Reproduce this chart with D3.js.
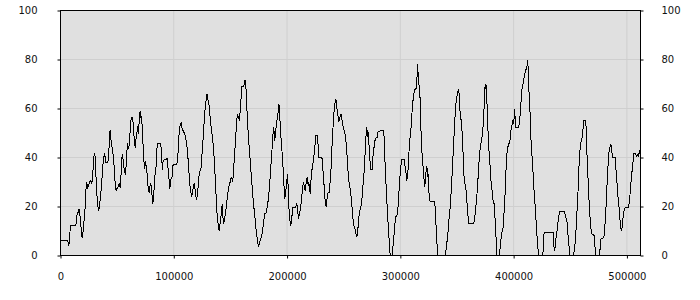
<!DOCTYPE html>
<html>
<head>
<meta charset="utf-8">
<script src="https://cdnjs.cloudflare.com/ajax/libs/d3/7.8.5/d3.min.js"></script>
<style>
  body { margin: 0; background: #ffffff; }
  text { font-family: "DejaVu Sans", Verdana, sans-serif; font-size: 10px; fill: #111111; }
</style>
</head>
<body>
<div id="chart"></div>
<script>
//----------------------------------------------------------------
// donnees (x en milliers, y en %)
//----------------------------------------------------------------
var xTicks = [0, 100000, 200000, 300000, 400000, 500000];
var yTicks = [0, 20, 40, 60, 80, 100];
var xMax = 512000;

var serieX = [
  0, 6.5, 7.1, 7.6, 8.2, 8.8, 13.5, 14.1, 14.7, 15.6, 16.5, 17.1, 17.7, 18.5, 19.1, 19.7, 20.3, 21.2, 21.8, 22.4,
  23.2, 23.8, 24.7, 25.6, 26.8, 27.7, 28.5, 29.4, 30.0, 30.6, 31.2, 32.1, 32.7, 33.8, 34.4, 35.3, 36.5, 37.4, 38.2, 38.8,
  39.4, 40.0, 41.8, 42.7, 43.2, 43.8, 44.4, 45.0, 45.9, 46.8, 47.7, 48.2, 49.1, 49.7, 50.6, 51.5, 52.1, 52.7, 53.5, 54.4,
  55.0, 55.6, 56.5, 57.4, 58.0, 58.5, 59.1, 59.7, 60.3, 60.9, 61.5, 62.4, 63.8, 64.4, 65.3, 65.9, 66.5, 67.4, 68.0, 68.6,
  69.1, 69.7, 70.3, 70.9, 71.5, 72.1, 72.7, 73.3, 73.8, 74.4, 75.0, 75.6, 76.2, 76.8, 77.7, 78.3, 78.8, 79.7, 80.3, 80.9,
  81.5, 82.1, 82.7, 83.3, 83.8, 84.4, 85.0, 85.6, 88.0, 88.8, 89.4, 90.0, 90.6, 91.8, 93.3, 94.1, 94.7, 95.3, 95.9, 96.5,
  97.1, 97.7, 98.3, 98.9, 99.4, 102.7, 103.6, 104.1, 104.7, 105.6, 106.5, 107.1, 107.7, 108.6, 109.4, 110.3, 111.2, 112.1, 113.0, 113.6,
  114.4, 115.3, 115.9, 116.5, 117.4, 118.0, 118.9, 119.7, 120.3, 120.9, 121.8, 122.4, 123.3, 124.2, 125.0, 125.6, 126.5, 127.1, 128.0, 128.9,
  129.4, 130.0, 130.9, 131.5, 132.4, 133.3, 134.1, 135.0, 135.6, 136.2, 136.8, 137.4, 138.0, 138.6, 139.4, 140.0, 140.6, 141.2, 142.1, 142.7,
  143.2, 143.8, 144.4, 145.3, 145.9, 146.8, 147.7, 148.3, 149.2, 149.7, 150.6, 151.5, 152.1, 152.7, 153.6, 154.4, 155.0, 155.6, 156.2, 156.8,
  157.4, 158.0, 158.6, 159.5, 160.1, 161.6, 162.2, 163.0, 163.6, 164.5, 165.4, 166.3, 167.5, 168.3, 169.2, 170.1, 171.0, 171.9, 172.7, 173.9,
  174.8, 175.7, 176.9, 177.7, 179.2, 180.1, 181.3, 182.2, 183.3, 184.5, 185.4, 186.3, 187.2, 188.0, 188.6, 189.2, 189.8, 190.4, 191.0, 191.9,
  192.8, 193.3, 193.9, 194.8, 195.7, 196.6, 197.5, 198.0, 198.9, 199.8, 200.4, 201.0, 201.6, 202.5, 203.3, 204.2, 205.1, 206.3, 207.5, 208.6,
  209.2, 210.1, 211.0, 211.9, 212.8, 213.6, 214.5, 215.1, 216.0, 216.9, 217.8, 218.6, 219.2, 219.8, 220.4, 221.0, 221.9, 222.8, 223.9, 224.8,
  225.4, 226.9, 227.5, 228.1, 229.8, 231.0, 231.9, 232.8, 233.6, 234.5, 235.4, 236.3, 237.2, 238.1, 238.9, 239.5, 240.4, 241.3, 242.2, 242.8,
  243.6, 244.2, 245.1, 245.7, 246.3, 246.9, 247.5, 248.1, 249.0, 249.8, 250.7, 251.6, 252.5, 253.4, 254.2, 255.1, 256.0, 256.9, 257.8, 258.7,
  259.5, 260.4, 261.3, 262.2, 263.1, 264.0, 264.8, 266.0, 266.9, 268.1, 269.0, 269.8, 270.4, 271.0, 271.6, 272.5, 273.4, 274.0, 275.1, 275.7,
  276.6, 277.5, 278.1, 278.7, 279.5, 280.4, 285.1, 285.7, 286.3, 287.2, 288.1, 289.0, 289.8, 290.4, 291.0, 292.8, 293.4, 294.0, 294.8, 295.7,
  296.6, 297.5, 298.4, 299.3, 300.4, 301.0, 303.4, 304.3, 305.1, 305.7, 306.6, 307.5, 308.4, 309.0, 309.6, 310.4, 311.3, 312.2, 313.1, 314.0,
  314.6, 315.1, 315.7, 316.3, 316.9, 317.5, 318.1, 319.0, 319.8, 320.4, 321.0, 321.6, 322.2, 322.8, 323.4, 324.0, 324.6, 325.1, 326.0, 326.9,
  330.4, 331.0, 331.9, 332.5, 333.1, 339.6, 340.4, 341.3, 342.2, 343.1, 344.0, 344.9, 345.7, 346.6, 347.5, 348.4, 349.3, 350.4, 351.3, 351.9,
  352.8, 353.7, 354.6, 355.4, 356.0, 356.9, 357.8, 358.7, 359.6, 360.2, 364.6, 365.5, 366.3, 367.2, 368.1, 369.0, 369.9, 370.7, 371.6, 372.5,
  373.4, 374.3, 374.9, 375.5, 376.0, 376.6, 377.5, 378.4, 379.3, 380.2, 381.0, 381.9, 382.8, 383.7, 384.6, 385.2, 387.5, 388.1, 389.0, 389.9,
  390.8, 391.3, 392.2, 393.1, 394.0, 394.9, 395.8, 396.6, 397.2, 398.1, 398.7, 399.3, 399.9, 400.5, 401.0, 401.6, 404.3, 405.2, 405.8, 406.6,
  407.5, 408.4, 409.3, 410.2, 411.1, 411.6, 412.2, 412.8, 413.4, 414.0, 414.6, 415.2, 416.1, 416.9, 417.8, 418.7, 419.6, 420.5, 421.4, 421.9,
  425.8, 426.4, 426.9, 434.9, 435.5, 436.1, 436.7, 437.5, 438.4, 439.3, 440.2, 440.8, 444.9, 445.8, 446.9, 447.5, 448.4, 449.3, 449.9, 452.8,
  454.0, 454.9, 455.5, 456.1, 456.7, 457.2, 458.1, 459.0, 459.9, 460.8, 461.4, 461.9, 463.4, 464.0, 464.6, 465.5, 466.4, 467.2, 468.1, 469.0,
  471.1, 471.7, 472.5, 475.8, 476.7, 477.2, 479.6, 480.5, 481.4, 482.2, 483.1, 484.0, 484.9, 485.8, 486.4, 486.9, 487.5, 489.6, 490.2, 491.1,
  491.9, 492.8, 493.7, 494.6, 495.5, 496.4, 496.9, 497.8, 498.7, 501.1, 502.0, 502.8, 503.7, 504.6, 505.5, 506.1, 507.0, 507.8, 508.7, 509.3,
  510.2, 511.1, 512.0
];

var serieY = [
  6.1, 6.1, 3.9, 4.8, 8.6, 12.1, 12.1, 14.3, 17.0, 17.7, 19.0, 17.0, 13.6, 9.5, 7.2, 8.8, 10.9, 17.0, 19.7, 26.5,
  29.9, 27.6, 28.6, 29.9, 30.6, 29.3, 33.3, 40.1, 42.0, 40.1, 33.3, 25.2, 20.4, 18.4, 20.8, 23.8, 30.6, 36.7, 40.1, 42.0,
  40.1, 38.1, 38.1, 42.2, 48.3, 51.0, 48.0, 45.3, 43.5, 39.5, 34.0, 29.9, 26.3, 27.2, 27.6, 29.0, 29.3, 27.6, 33.3, 41.2,
  40.1, 37.4, 34.0, 33.3, 37.4, 41.5, 45.9, 44.5, 43.5, 46.9, 51.0, 56.2, 56.2, 51.0, 46.9, 43.9, 46.9, 49.7, 52.7, 49.7,
  52.4, 55.8, 58.9, 56.2, 57.1, 52.7, 46.7, 41.5, 37.4, 35.4, 38.5, 36.7, 34.7, 30.6, 26.3, 25.9, 27.9, 29.5, 27.6, 23.8,
  21.1, 23.5, 27.6, 32.7, 33.3, 36.7, 42.9, 45.9, 45.9, 44.2, 39.5, 35.0, 38.8, 39.0, 39.0, 39.9, 37.1, 33.3, 30.6, 27.2,
  29.3, 32.0, 31.3, 34.7, 37.1, 37.1, 40.4, 45.6, 49.7, 53.1, 54.3, 52.1, 51.7, 50.3, 50.3, 48.3, 46.3, 42.2, 37.1, 32.7,
  27.9, 25.2, 24.1, 26.3, 27.6, 29.5, 26.5, 23.8, 23.1, 25.2, 29.3, 33.3, 34.7, 36.1, 41.8, 45.6, 52.4, 56.5, 61.9, 64.4,
  66.0, 63.8, 62.6, 59.2, 55.1, 51.0, 48.3, 44.2, 40.1, 34.7, 29.9, 23.8, 18.4, 14.3, 12.7, 10.2, 12.2, 14.3, 17.3, 21.1,
  17.0, 12.9, 13.6, 16.3, 18.4, 21.8, 25.4, 27.6, 29.3, 29.9, 32.0, 31.3, 29.9, 35.0, 40.1, 46.9, 51.0, 55.1, 57.8, 56.7,
  55.8, 55.1, 59.2, 64.6, 69.0, 69.0, 70.1, 71.7, 69.4, 60.5, 52.4, 45.6, 38.8, 33.3, 27.9, 22.4, 18.4, 14.3, 10.2, 6.1,
  3.4, 5.4, 6.8, 8.2, 12.9, 17.0, 17.3, 19.0, 22.4, 27.9, 34.7, 40.1, 46.9, 52.4, 50.3, 46.9, 50.3, 52.4, 55.1, 57.8,
  61.9, 59.2, 53.7, 46.9, 41.5, 34.7, 26.5, 23.1, 26.5, 30.6, 33.3, 27.9, 19.7, 14.3, 12.2, 15.6, 19.5, 19.5, 19.7, 21.4,
  19.0, 15.0, 17.0, 19.7, 22.4, 27.9, 29.5, 28.6, 26.3, 29.9, 32.0, 28.6, 29.9, 27.9, 25.2, 29.9, 34.7, 37.4, 41.5, 45.6,
  49.0, 49.0, 44.2, 40.1, 40.1, 39.5, 33.3, 27.9, 22.4, 19.7, 23.8, 25.9, 25.9, 30.6, 36.1, 42.9, 51.0, 57.8, 61.9, 63.5,
  63.0, 59.2, 56.5, 54.4, 55.8, 56.7, 57.8, 56.5, 53.7, 51.7, 51.0, 48.3, 44.2, 37.4, 32.0, 28.6, 26.5, 22.4, 17.0, 12.2,
  11.6, 10.2, 7.5, 8.8, 14.3, 18.4, 19.0, 22.4, 27.9, 34.7, 42.9, 49.7, 52.4, 48.3, 50.3, 44.2, 37.4, 35.0, 35.0, 40.1,
  43.5, 46.9, 46.9, 48.3, 48.3, 50.7, 51.0, 48.3, 40.1, 30.6, 22.4, 14.3, 8.8, 4.1, 0, 0, 3.4, 6.1, 10.2, 15.6,
  16.3, 17.0, 22.4, 30.6, 36.1, 39.0, 39.0, 36.1, 33.3, 30.6, 33.3, 41.5, 46.9, 51.7, 52.4, 59.2, 63.9, 66.7, 68.0, 68.0,
  71.4, 78.2, 74.1, 70.1, 68.7, 63.3, 52.4, 42.9, 37.4, 34.7, 30.6, 27.9, 32.0, 34.7, 36.7, 32.0, 33.3, 26.5, 22.4, 22.0,
  22.0, 17.0, 8.8, 3.4, 0, 0, 2.7, 6.1, 10.2, 15.6, 19.7, 26.5, 33.3, 41.5, 49.7, 57.8, 63.3, 66.0, 68.0, 66.0,
  57.8, 55.1, 49.7, 41.5, 33.3, 29.3, 27.9, 22.4, 17.0, 12.9, 12.9, 14.3, 18.4, 22.4, 27.9, 34.7, 41.5, 44.2, 46.9, 49.7,
  55.1, 64.6, 70.1, 68.0, 69.4, 60.5, 49.7, 41.5, 36.1, 29.3, 26.5, 22.4, 21.1, 14.3, 6.1, 0, 0, 3.4, 7.5, 10.2,
  11.6, 15.6, 22.4, 33.3, 41.5, 44.2, 45.9, 45.9, 49.7, 52.4, 53.7, 55.4, 53.7, 56.5, 59.9, 52.4, 52.1, 54.4, 57.8, 63.3,
  68.7, 70.1, 72.8, 74.8, 76.2, 76.2, 79.6, 76.9, 67.3, 66.0, 56.5, 48.3, 41.5, 36.1, 27.9, 22.4, 15.6, 8.8, 3.4, 0,
  0, 6.1, 9.3, 9.3, 4.1, 2.0, 3.4, 7.5, 10.2, 14.3, 17.0, 18.1, 18.1, 15.6, 15.0, 11.6, 6.1, 2.0, 0, 0,
  3.4, 8.8, 14.3, 19.7, 23.8, 32.0, 40.1, 45.6, 46.9, 49.0, 52.4, 55.1, 55.1, 52.4, 42.9, 33.3, 23.8, 17.0, 11.6, 8.8,
  8.2, 4.1, 0, 0, 4.8, 6.8, 7.2, 11.6, 18.4, 26.5, 34.7, 41.5, 44.2, 45.3, 44.2, 41.5, 39.9, 39.9, 36.1, 30.6,
  25.2, 21.1, 15.6, 10.9, 10.2, 14.3, 17.0, 19.0, 19.7, 19.7, 21.1, 25.2, 30.6, 34.7, 38.8, 41.5, 41.8, 41.5, 40.1, 41.5,
  40.1, 42.9, 43.1
];

//----------------------------------------------------------------
// svg et echelles
//----------------------------------------------------------------
var largeur = 700, hauteur = 300;
var gauche = 60.5, droite = 640.5, haut = 10.5, bas = 255.5;

var svg = d3.select("#chart")
  .append("svg")
  .attr("width", largeur)
  .attr("height", hauteur);

var x = d3.scaleLinear().domain([0, xMax]).range([gauche, droite]);
var y = d3.scaleLinear().domain([0, 100]).range([bas, haut]);

var points = serieX.map(function(d, i){ return [d * 1000, serieY[i]]; });

// fond gris
svg.append("rect")
  .attr("x", gauche).attr("y", haut)
  .attr("width", droite - gauche).attr("height", bas - haut)
  .attr("fill", "#e0e0e0");

// grille
svg.append("g")
  .selectAll("line.gy")
  .data(yTicks.slice(1, -1))
  .enter().append("line")
  .attr("x1", gauche).attr("x2", droite)
  .attr("y1", function(d){ return y(d); })
  .attr("y2", function(d){ return y(d); })
  .attr("stroke", "#cfcfcf");

svg.append("g")
  .selectAll("line.gx")
  .data(xTicks.slice(1))
  .enter().append("line")
  .attr("y1", haut).attr("y2", bas)
  .attr("x1", function(d){ return x(d); })
  .attr("x2", function(d){ return x(d); })
  .attr("stroke", "#cfcfcf");

// courbe
var ligne = d3.line()
  .x(function(d){ return x(d[0]); })
  .y(function(d){ return y(d[1]); });

svg.append("path")
  .datum(points)
  .attr("d", ligne)
  .attr("fill", "none")
  .attr("stroke", "#000000")
  .attr("stroke-width", 1)
  .attr("shape-rendering", "crispEdges");

// cadre
svg.append("rect")
  .attr("x", gauche).attr("y", haut)
  .attr("width", droite - gauche).attr("height", bas - haut)
  .attr("fill", "none")
  .attr("stroke", "#000000");

//----------------------------------------------------------------
// axes
//----------------------------------------------------------------
var axeX = d3.axisBottom(x).tickValues(xTicks).tickFormat(d3.format("d"))
  .tickSize(3).tickPadding(14);
var axeG = d3.axisLeft(y).tickValues(yTicks).tickSize(3).tickPadding(20);
var axeD = d3.axisRight(y).tickValues(yTicks).tickSize(3).tickPadding(18);

function styleAxe(g){
  g.select(".domain").remove();
  g.selectAll("line").attr("stroke", "#000000");
  g.selectAll("text").attr("font-family", null).attr("font-size", null).attr("fill", "#111111");
}

svg.append("g").attr("transform", "translate(0," + bas + ")").call(axeX).call(styleAxe);
svg.append("g").attr("transform", "translate(" + gauche + ",0)").call(axeG).call(styleAxe);
svg.append("g").attr("transform", "translate(" + droite + ",0)").call(axeD).call(styleAxe);
</script>
</body>
</html>
